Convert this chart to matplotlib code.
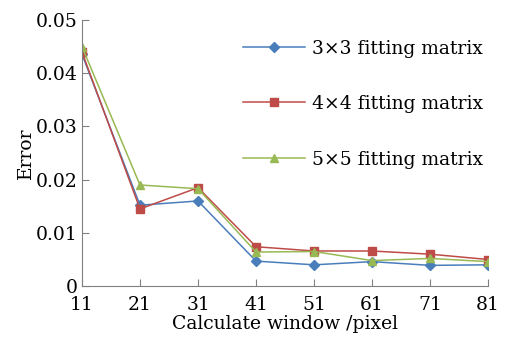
import matplotlib
matplotlib.use("Agg")
import matplotlib.pyplot as plt

x = [11, 21, 31, 41, 51, 61, 71, 81]
err3 = [0.0436, 0.0152, 0.0160, 0.0047, 0.0040, 0.0046, 0.0039, 0.0040]
err4 = [0.0440, 0.0145, 0.0185, 0.0074, 0.0066, 0.0066, 0.0060, 0.0050]
err5 = [0.0450, 0.0190, 0.0183, 0.0064, 0.0065, 0.0048, 0.0052, 0.0046]
labels = ["3\u00d73 fitting matrix", "4\u00d74 fitting matrix", "5\u00d75 fitting matrix"]

plt.rcParams['font.family'] = ['DejaVu Serif']
fig = plt.figure(figsize=(5.09, 3.39), dpi=100)
ax = fig.add_axes([0.161, 0.156, 0.798, 0.785])

ax.plot(x, err3, color='#4a7ebb', marker='D', markersize=5, lw=1.1, label=labels[0])
ax.plot(x, err4, color='#be4b48', marker='s', markersize=6, lw=1.1, label=labels[1])
ax.plot(x, err5, color='#98b954', marker='^', markersize=6, lw=1.1, label=labels[2])

ax.set_xlim(11, 81)
ax.set_ylim(0, 0.05)
ax.set_xticks(x)
ax.set_yticks([0, 0.01, 0.02, 0.03, 0.04, 0.05])
ax.set_yticklabels(['0', '0.01', '0.02', '0.03', '0.04', '0.05'])
for s in ['top', 'right']:
    ax.spines[s].set_visible(False)
for s in ['left', 'bottom']:
    ax.spines[s].set_color('#808080')
ax.tick_params(direction='in', length=5, color='#808080', labelsize=13.5)
ax.tick_params(axis='x', pad=7)
ax.tick_params(axis='y', pad=3)
ax.set_xlabel('Calculate window /pixel', fontsize=13.5, labelpad=1)
ax.set_ylabel('Error', fontsize=13.5, labelpad=1)
ax.legend(loc='upper right', bbox_to_anchor=(1.03, 0.99), frameon=False, fontsize=13.5,
          labelspacing=2.0, handlelength=3.3, handletextpad=0.4)
fig.savefig('out.png', dpi=100)
